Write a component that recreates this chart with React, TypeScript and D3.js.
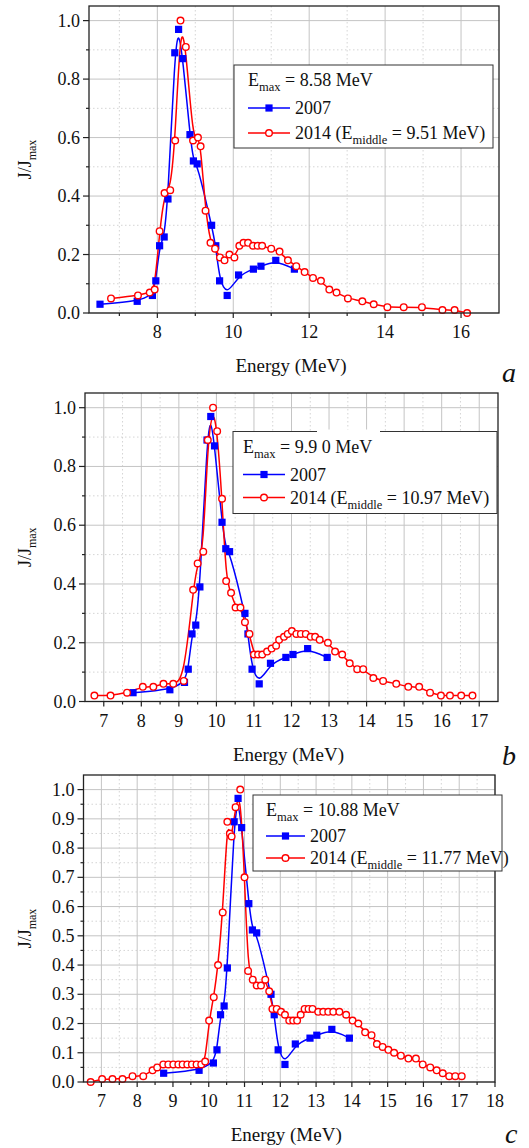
import React from 'react';
import * as d3 from 'd3';

// ---- data (energy in MeV, J/Jmax) ----
const aE2007 = [6.49, 7.47, 7.87, 7.96, 8.06, 8.18, 8.28, 8.46, 8.56, 8.67, 8.86, 8.95, 9.05, 9.43, 9.54, 9.64, 9.84, 10.14, 10.53, 10.73, 11.12, 11.61];
const aJ2007 = [0.03, 0.04, 0.06, 0.11, 0.23, 0.26, 0.39, 0.89, 0.97, 0.87, 0.61, 0.52, 0.51, 0.30, 0.23, 0.11, 0.06, 0.13, 0.15, 0.16, 0.18, 0.15];
const aE2014 = [6.78, 7.49, 7.80, 7.93, 8.06, 8.19, 8.34, 8.47, 8.61, 8.75, 8.94, 9.07, 9.14, 9.27, 9.40, 9.52, 9.65, 9.77, 9.90, 10.03, 10.16, 10.27, 10.39, 10.52, 10.64, 10.76, 11.0, 11.22, 11.44, 11.66, 11.88, 12.1, 12.31, 12.53, 12.72, 13.02, 13.40, 13.70, 14.06, 14.49, 14.97, 15.51, 15.83, 16.16];
const aJ2014 = [0.05, 0.06, 0.07, 0.08, 0.28, 0.41, 0.42, 0.59, 1.0, 0.91, 0.59, 0.60, 0.57, 0.35, 0.24, 0.22, 0.19, 0.18, 0.20, 0.19, 0.23, 0.24, 0.24, 0.23, 0.23, 0.23, 0.22, 0.21, 0.18, 0.16, 0.14, 0.12, 0.11, 0.08, 0.07, 0.05, 0.04, 0.03, 0.02, 0.02, 0.02, 0.01, 0.01, 0.0];

const bE2007 = [7.78, 8.76, 9.15, 9.25, 9.35, 9.45, 9.56, 9.75, 9.85, 9.95, 10.15, 10.25, 10.35, 10.76, 10.84, 10.95, 11.14, 11.44, 11.85, 12.04, 12.43, 12.95];
const bJ2007 = [0.03, 0.04, 0.065, 0.11, 0.23, 0.26, 0.39, 0.89, 0.97, 0.87, 0.61, 0.52, 0.51, 0.30, 0.23, 0.11, 0.06, 0.13, 0.15, 0.16, 0.18, 0.15];
const bE2014 = [6.75, 7.18, 7.62, 8.04, 8.32, 8.59, 8.85, 9.13, 9.38, 9.50, 9.65, 9.77, 9.91, 10.02, 10.15, 10.26, 10.39, 10.51, 10.64, 10.76, 10.88, 11.0, 11.11, 11.22, 11.35, 11.47, 11.59, 11.67, 11.80, 11.90, 12.01, 12.13, 12.25, 12.38, 12.51, 12.63, 12.75, 12.97, 13.16, 13.35, 13.55, 13.75, 13.91, 14.18, 14.44, 14.79, 15.11, 15.40, 15.69, 15.98, 16.22, 16.52, 16.82];
const bJ2014 = [0.02, 0.02, 0.03, 0.05, 0.05, 0.06, 0.06, 0.07, 0.38, 0.47, 0.51, 0.89, 1.0, 0.92, 0.69, 0.41, 0.37, 0.32, 0.32, 0.27, 0.23, 0.16, 0.16, 0.16, 0.17, 0.18, 0.19, 0.21, 0.22, 0.23, 0.24, 0.23, 0.23, 0.23, 0.22, 0.22, 0.21, 0.20, 0.17, 0.16, 0.13, 0.11, 0.11, 0.08, 0.07, 0.06, 0.05, 0.05, 0.03, 0.02, 0.02, 0.02, 0.02];

const cE2007 = [8.74, 9.73, 10.13, 10.23, 10.33, 10.43, 10.52, 10.71, 10.82, 10.92, 11.12, 11.22, 11.34, 11.74, 11.83, 11.94, 12.13, 12.42, 12.83, 13.02, 13.44, 13.93];
const cJ2007 = [0.03, 0.04, 0.065, 0.11, 0.23, 0.26, 0.39, 0.89, 0.97, 0.87, 0.61, 0.52, 0.51, 0.30, 0.23, 0.11, 0.06, 0.13, 0.15, 0.16, 0.18, 0.15];
const cE2014 = [6.70, 7.02, 7.31, 7.59, 7.87, 8.17, 8.43, 8.56, 8.73, 8.87, 9.01, 9.15, 9.27, 9.40, 9.53, 9.66, 9.79, 9.90, 10.01, 10.14, 10.26, 10.39, 10.52, 10.59, 10.64, 10.75, 10.88, 11.0, 11.10, 11.23, 11.34, 11.46, 11.58, 11.69, 11.78, 11.90, 12.02, 12.13, 12.25, 12.36, 12.47, 12.57, 12.68, 12.79, 12.90, 13.06, 13.20, 13.34, 13.48, 13.65, 13.84, 14.02, 14.18, 14.37, 14.55, 14.70, 14.86, 15.02, 15.18, 15.37, 15.58, 15.79, 15.98, 16.19, 16.37, 16.54, 16.72, 16.89, 17.07];
const cJ2014 = [0.0, 0.01, 0.01, 0.01, 0.02, 0.02, 0.04, 0.05, 0.06, 0.06, 0.06, 0.06, 0.06, 0.06, 0.06, 0.06, 0.06, 0.07, 0.21, 0.29, 0.40, 0.58, 0.89, 0.85, 0.84, 0.94, 1.0, 0.70, 0.38, 0.35, 0.33, 0.33, 0.35, 0.31, 0.25, 0.25, 0.24, 0.23, 0.21, 0.21, 0.21, 0.23, 0.25, 0.25, 0.25, 0.24, 0.24, 0.24, 0.24, 0.24, 0.23, 0.21, 0.20, 0.17, 0.16, 0.13, 0.12, 0.11, 0.10, 0.09, 0.08, 0.08, 0.06, 0.05, 0.04, 0.03, 0.02, 0.02, 0.02];

// ticks
const xMajorA = [8, 10, 12, 14, 16];
const xMinorA = [7, 9, 11, 13, 15];
const xMajorB = [7, 8, 9, 10, 11, 12, 13, 14, 15, 16, 17];
const xMinorB = [7.5, 8.5, 9.5, 10.5, 11.5, 12.5, 13.5, 14.5, 15.5, 16.5];
const xMajorC = [7, 8, 9, 10, 11, 12, 13, 14, 15, 16, 17, 18];
const xMinorC = [7.5, 8.5, 9.5, 10.5, 11.5, 12.5, 13.5, 14.5, 15.5, 16.5, 17.5];
const yMajorAB = [0, 0.2, 0.4, 0.6, 0.8, 1.0];
const yMinorAB = [0.1, 0.3, 0.5, 0.7, 0.9];
const yMajorC = [0, 0.1, 0.2, 0.3, 0.4, 0.5, 0.6, 0.7, 0.8, 0.9, 1.0];
const yMinorC = [0.05, 0.15, 0.25, 0.35, 0.45, 0.55, 0.65, 0.75, 0.85, 0.95];

const emaxLabels = ['8.58', '9.9 0', '10.88'];
const emiddleLabels = ['9.51', '10.97', '11.77'];

const FONT = 'Liberation Serif, DejaVu Serif, Times New Roman, serif';
const BLUE = '#0000ff';
const RED = '#ff0000';

const zip = (xs, ys) => xs.map((x, i) => [x, ys[i]]);

const panels = [
  {
    letter: 'a', left: 89, right: 499, top: 6, bottom: 313, xDomain: [6.2, 17],
    xMajor: xMajorA, xMinor: xMinorA, yMajor: yMajorAB, yMinor: yMinorAB,
    s2007: zip(aE2007, aJ2007), s2014: zip(aE2014, aJ2014),
    legend: { x: 234, y: 65, w: 259, h: 83, rows: [15, 43, 68], l0: 14, l1: 56, tx: 61 },
    emax: emaxLabels[0], emid: emiddleLabels[0], letterPos: [502, 382],
  },
  {
    letter: 'b', left: 85, right: 498, top: 393, bottom: 701.5, xDomain: [6.5, 17.5],
    xMajor: xMajorB, xMinor: xMinorB, yMajor: yMajorAB, yMinor: yMinorAB,
    s2007: zip(bE2007, bJ2007), s2014: zip(bE2014, bJ2014),
    legend: { x: 233, y: 431.5, w: 264, h: 82, rows: [15, 43, 66], l0: 10, l1: 52, tx: 57 },
    emax: emaxLabels[1], emid: emiddleLabels[1], letterPos: [502, 765], gap: [317, 380],
  },
  {
    letter: 'c', left: 83.5, right: 495, top: 775, bottom: 1082, xDomain: [6.5, 18],
    xMajor: xMajorC, xMinor: xMinorC, yMajor: yMajorC, yMinor: yMinorC,
    s2007: zip(cE2007, cJ2007), s2014: zip(cE2014, cJ2014),
    legend: { x: 253, y: 795, w: 249, h: 76, rows: [15, 41, 63], l0: 13, l1: 52, tx: 57 },
    emax: emaxLabels[2], emid: emiddleLabels[2], letterPos: [505, 1143],
  },
];

const Square = ({ x, y }) => <rect x={x - 3.6} y={y - 3.6} width={7.2} height={7.2} fill={BLUE} />;
const Circle = ({ x, y }) => <circle cx={x} cy={y} r={3.3} fill="#fff" stroke={RED} strokeWidth={1.4} />;

const Panel = ({ p }) => {
  const x = d3.scaleLinear().domain(p.xDomain).range([p.left, p.right]);
  const y = d3.scaleLinear().domain([0, 1.05]).range([p.bottom, p.top]);
  const line = d3.line().x(d => x(d[0])).y(d => y(d[1])).curve(d3.curveBasis);
  const L = p.legend;
  const midY = (p.top + p.bottom) / 2;
  const midX = (p.left + p.right) / 2;

  return (
    <g style={{ fontFamily: FONT }} fill="#111">
      {/* grid */}
      {p.xMinor.map(v => (
        <line key={'xm' + v} x1={x(v)} x2={x(v)} y1={p.top} y2={p.bottom} stroke="#c9c9c9" strokeWidth={0.8} strokeDasharray="1.5,2.5" />
      ))}
      {p.yMinor.map(v => (
        <line key={'ym' + v} x1={p.left} x2={p.right} y1={y(v)} y2={y(v)} stroke="#c9c9c9" strokeWidth={0.8} strokeDasharray="1.5,2.5" />
      ))}
      {p.xMajor.map(v => (
        <line key={'xg' + v} x1={x(v)} x2={x(v)} y1={p.top} y2={p.bottom} stroke="#c4c4c4" strokeWidth={1} />
      ))}
      {p.yMajor.map(v => (
        <line key={'yg' + v} x1={p.left} x2={p.right} y1={y(v)} y2={y(v)} stroke="#c4c4c4" strokeWidth={1} />
      ))}

      {/* series */}
      <path d={line(p.s2007)} fill="none" stroke={BLUE} strokeWidth={1.5} />
      <path d={line(p.s2014)} fill="none" stroke={RED} strokeWidth={1.5} />
      {p.s2007.map((d, i) => <Square key={'s' + i} x={x(d[0])} y={y(d[1])} />)}
      {p.s2014.map((d, i) => <Circle key={'c' + i} x={x(d[0])} y={y(d[1])} />)}

      {/* frame */}
      <rect x={p.left} y={p.top} width={p.right - p.left} height={p.bottom - p.top} fill="none" stroke="#222" strokeWidth={1.3} />

      {/* ticks */}
      {p.xMajor.map(v => <line key={'xt' + v} x1={x(v)} x2={x(v)} y1={p.bottom} y2={p.bottom + 5} stroke="#222" strokeWidth={1.2} />)}
      {p.xMinor.map(v => <line key={'xn' + v} x1={x(v)} x2={x(v)} y1={p.bottom} y2={p.bottom + 3} stroke="#222" strokeWidth={1.2} />)}
      {p.yMajor.map(v => <line key={'yt' + v} x1={p.left - 6} x2={p.left} y1={y(v)} y2={y(v)} stroke="#222" strokeWidth={1.2} />)}
      {p.yMinor.map(v => <line key={'yn' + v} x1={p.left - 3} x2={p.left} y1={y(v)} y2={y(v)} stroke="#222" strokeWidth={1.2} />)}

      {p.xMajor.map(v => (
        <text key={'xl' + v} x={x(v)} y={p.bottom + 25} textAnchor="middle" fontSize={18}>{v}</text>
      ))}
      {p.yMajor.map(v => (
        <text key={'yl' + v} x={p.left - 9} y={y(v) + 6} textAnchor="end" fontSize={18}>{d3.format('.1f')(v)}</text>
      ))}

      {/* axis titles */}
      <text x={midX - 3} y={p.bottom + 59} textAnchor="middle" fontSize={19}>Energy (MeV)</text>
      <text transform={`translate(31,${midY}) rotate(-90)`} textAnchor="middle" fontSize={18}>
        J/J<tspan fontSize={12} dy={5}>max</tspan>
      </text>
      <text x={p.letterPos[0]} y={p.letterPos[1]} fontSize={28} fontStyle="italic">{p.letter}</text>

      {/* legend */}
      <rect x={L.x} y={L.y} width={L.w} height={L.h} fill="#fff" stroke="#333" strokeWidth={1} />
      {p.gap && <rect x={p.gap[0]} y={L.y - 2} width={p.gap[1] - p.gap[0]} height={4} fill="#fff" />}
      <text x={L.x + L.l0} y={L.y + L.rows[0] + 6} fontSize={18}>
        E<tspan fontSize={12.5} dy={5}>max</tspan><tspan dy={-5}> = {p.emax} MeV</tspan>
      </text>
      <line x1={L.x + L.l0} x2={L.x + L.l1} y1={L.y + L.rows[1]} y2={L.y + L.rows[1]} stroke={BLUE} strokeWidth={1.5} />
      <Square x={L.x + (L.l0 + L.l1) / 2} y={L.y + L.rows[1]} />
      <text x={L.x + L.tx} y={L.y + L.rows[1] + 6} fontSize={18}>2007</text>
      <line x1={L.x + L.l0} x2={L.x + L.l1} y1={L.y + L.rows[2]} y2={L.y + L.rows[2]} stroke={RED} strokeWidth={1.5} />
      <Circle x={L.x + (L.l0 + L.l1) / 2} y={L.y + L.rows[2]} />
      <text x={L.x + L.tx} y={L.y + L.rows[2] + 6} fontSize={18}>
        2014 (E<tspan fontSize={12.5} dy={5}>middle</tspan><tspan dy={-5}> = {p.emid} MeV)</tspan>
      </text>
    </g>
  );
}

export default function App() {
  return (
    <svg width={529} height={1148} style={{ position: 'absolute', left: 0, top: 0, background: '#fff' }}>
      <rect width={529} height={1148} fill="#fff" />
      {panels.map(p => <Panel key={p.letter} p={p} />)}
    </svg>
  );
}
